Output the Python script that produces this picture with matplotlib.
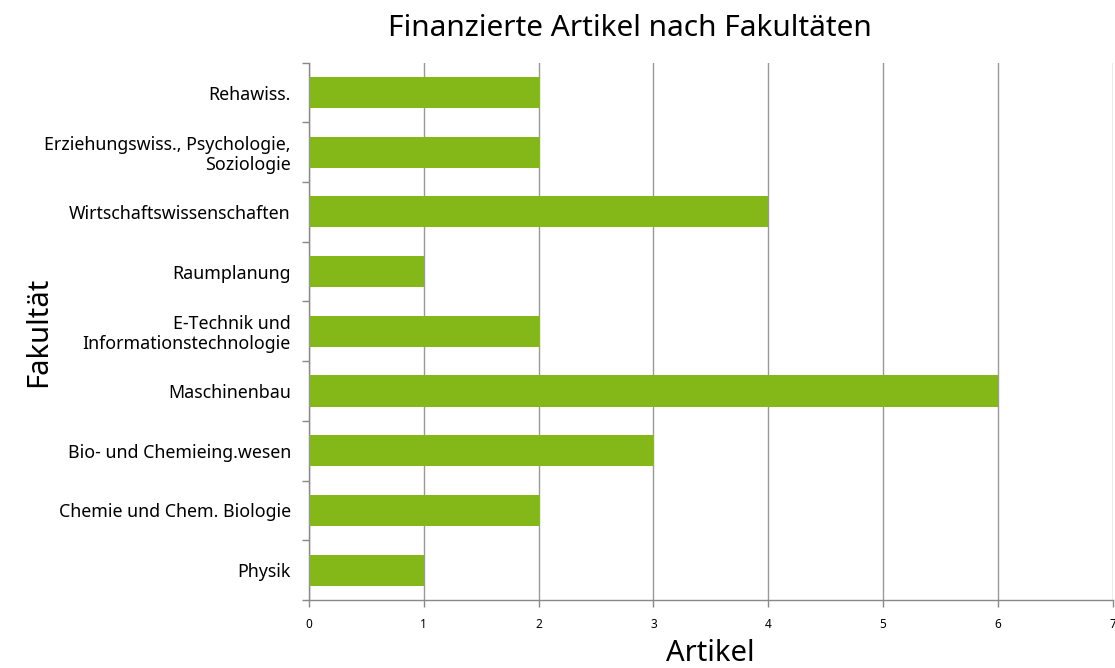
import matplotlib.pyplot as plt

# Daten
fakultaeten = [
    'Physik',
    'Chemie und Chem. Biologie',
    'Bio- und Chemieing.wesen',
    'Maschinenbau',
    'E-Technik und\nInformationstechnologie',
    'Raumplanung',
    'Wirtschaftswissenschaften',
    'Erziehungswiss., Psychologie,\nSoziologie',
    'Rehawiss.',
]
artikel = [1, 2, 3, 6, 2, 1, 4, 2, 2]
x_ticks = [0, 1, 2, 3, 4, 5, 6, 7]

plt.rcParams['font.family'] = ['Noto Sans', 'DejaVu Sans']

fig = plt.figure(figsize=(11.15, 6.68), dpi=100)
ax = fig.add_axes([0.277, 0.102, 0.721, 0.804])

pos = range(len(fakultaeten))
ax.barh(pos, artikel, height=0.52, color='#84B819', zorder=3)

ax.set_xlim(0, 7)
ax.set_ylim(-0.5, len(fakultaeten) - 0.5)
ax.set_xticks(x_ticks)
ax.set_xticklabels([str(t) for t in x_ticks], fontsize=8.5)
ax.set_yticks(list(pos))
ax.set_yticklabels(fakultaeten, fontsize=12.8, linespacing=1.1)
ax.set_yticks([i - 0.5 for i in range(len(fakultaeten) + 1)], minor=True)
ax.tick_params(axis='y', which='major', length=0, pad=13)
ax.tick_params(axis='y', which='minor', length=5, color='#888888', width=1)
ax.tick_params(axis='x', length=5, color='#888888', width=1, pad=8)

ax.grid(axis='x', color='#999999', linewidth=1, zorder=0)
for s in ['top', 'right']:
    ax.spines[s].set_visible(False)
for s in ['left', 'bottom']:
    ax.spines[s].set_color('#888888')
    ax.spines[s].set_linewidth(1)

ax.set_xlabel('Artikel', fontsize=21, labelpad=6)
ax.set_ylabel('Fakultät', fontsize=21)
ax.yaxis.set_label_coords(-0.318, 0.5)
fig.text(0.565, 0.957, 'Finanzierte Artikel nach Fakultäten', fontsize=21.5,
         ha='center', va='center')

fig.savefig('out.png', dpi=100)
